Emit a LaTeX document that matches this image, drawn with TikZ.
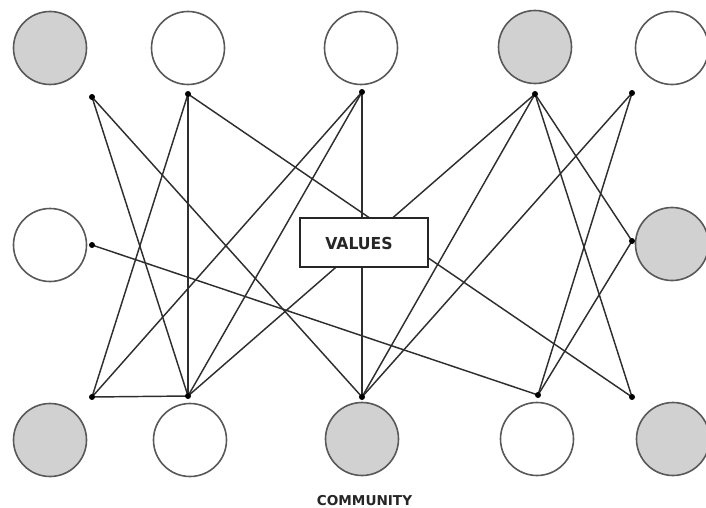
\documentclass[tikz,border=0pt]{standalone}
\usepackage{fontspec}
\setmainfont{DejaVu Sans}
\begin{document}
\begin{tikzpicture}[x=1pt,y=-1pt,
  member/.style={circle,draw=black!65,line width=1.6pt,minimum size=73pt,inner sep=0pt},
  shaded/.style={member,fill=black!18},
  plain/.style={member,fill=white},
  tie/.style={circle,fill=black,inner sep=0pt,minimum size=6pt},
  link/.style={draw=black!82,line width=1.45pt},
  valuebox/.style={draw=black!85,fill=white,line width=1.9pt,minimum width=128pt,minimum height=49pt,inner sep=0pt},
  caption/.style={inner sep=0pt,text=black!85,font=\bfseries}]
\useasboundingbox[fill=white] (0,0) rectangle (706,508);

% members of the community
\node[shaded] (p1) at (50,48) {};
\node[plain]  (p2) at (188,48) {};
\node[plain]  (p3) at (361,48) {};
\node[shaded] (p4) at (535,47) {};
\node[plain]  (p5) at (672,48) {};
\node[plain]  (p6) at (50,245) {};
\node[shaded] (p7) at (672,244) {};
\node[shaded] (p8) at (50,440) {};
\node[plain]  (p9) at (190,440) {};
\node[shaded] (p10) at (362,439) {};
\node[plain]  (p11) at (537,439) {};
\node[shaded] (p12) at (673,439) {};

% attachment points
\coordinate (ct1) at (92,97);
\coordinate (ct2) at (188,94);
\coordinate (ct3) at (362,92);
\coordinate (ct4) at (535,94);
\coordinate (ct5) at (632,93);
\coordinate (cm1) at (92,245);
\coordinate (cm2) at (632,241);
\coordinate (cb1) at (92,397);
\coordinate (cb2) at (188,396);
\coordinate (cb3) at (362,397);
\coordinate (cb4) at (538,395);
\coordinate (cb5) at (632,397);

% ties between members
\draw[link] (ct1) -- (cb2);
\draw[link] (ct1) -- (cb3);
\draw[link] (ct2) -- (cb1);
\draw[link] (ct2) -- (cb2);
\draw[link] (ct2) -- (cb5);
\draw[link] (ct3) -- (cb1);
\draw[link] (ct3) -- (cb2);
\draw[link] (ct3) -- (cb3);
\draw[link] (ct4) -- (cb2);
\draw[link] (ct4) -- (cb3);
\draw[link] (ct4) -- (cm2);
\draw[link] (ct4) -- (cb5);
\draw[link] (ct5) -- (cb3);
\draw[link] (ct5) -- (cb4);
\draw[link] (cm1) -- (cb4);
\draw[link] (cm2) -- (cb4);
\draw[link] (cb1) -- (cb2);

% dots at the ends of the ties
\foreach \c in {ct1,ct2,ct3,ct4,ct5,cm1,cm2,cb1,cb2,cb3,cb4,cb5}
  \node[tie] (\c-dot) at (\c) {};

% shared values in the middle
\node[valuebox] (values) at (364,242.5) {};
\node[caption] (values-text) at (359,243) {\scalebox{0.95}[1]{\fontsize{16.5}{16.5}\selectfont VALUES}};

\node[caption] (community) at (364.5,500.5) {\fontsize{13.6}{13.6}\selectfont COMMUNITY};
\end{tikzpicture}
\end{document}
